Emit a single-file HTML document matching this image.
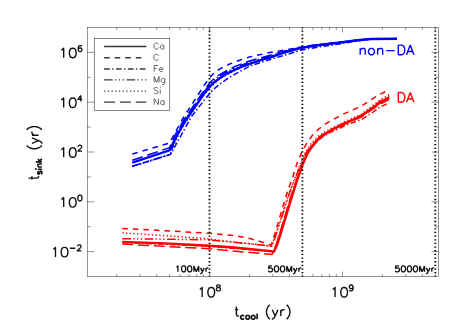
<!DOCTYPE html>
<html><head><meta charset="utf-8"><title>chart</title>
<style>html,body{margin:0;padding:0;background:#fff;}body{width:465px;height:332px;overflow:hidden;font-family:"Liberation Sans",sans-serif;}</style></head>
<body>
<svg width="465" height="332" viewBox="0 0 465 332" style="display:block;font-family:'Liberation Sans',sans-serif">
<rect width="465" height="332" fill="#fff"/>
<path d="M132.3,154.0 L169.5,143.0 L176.5,130.0 L184.0,116.5 L195.5,99.0 L203.0,87.0 L209.5,77.9 L214.0,73.0 L220.0,68.8 L229.1,64.3 L239.6,60.2 L250.2,56.8 L270.9,52.3 L292.6,48.6 L302.6,46.6 L320.0,44.4 L342.0,41.9 L360.0,39.8 L371.0,38.8 L397.0,38.6" fill="none" stroke="#0000ff" stroke-width="1.5" stroke-dasharray="5.6 4.95"/>
<path d="M132.3,166.2 L170.5,154.4 L181.0,135.5 L191.6,116.3 L203.6,100.9 L212.7,90.0 L220.0,83.9 L227.0,79.0 L235.1,74.1 L250.2,65.8 L270.9,59.3 L292.6,52.8 L302.6,49.7 L320.0,46.8 L342.0,43.6 L356.0,41.0 L371.0,39.3 L397.0,39.0" fill="none" stroke="#0000ff" stroke-width="1.5" stroke-dasharray="5.7 2.3 1.4 2.5"/>
<path d="M132.3,166.2 L170.3,154.4 L176.8,133.5 L185.1,119.5 L196.7,102.6 L202.6,94.0 L207.8,87.0 L209.5,84.6 L214.0,80.0 L220.0,75.7 L235.1,67.6 L250.2,61.9 L270.9,55.9 L285.0,51.4 L302.6,47.3 L320.0,44.8 L342.0,42.2 L360.0,40.0 L371.0,39.0 L397.0,38.8" fill="none" stroke="#0000ff" stroke-width="1.5" stroke-dasharray="8.6 2.3 1.3 2.5 1.3 2.5 1.3 2.6"/>
<path d="M132.3,166.4 L170.4,154.6 L178.6,133.8 L186.9,119.8 L198.5,102.9 L204.4,94.3 L210.0,87.3 L220.0,78.3 L235.1,70.0 L250.2,64.0 L270.9,57.4 L285.0,52.6 L302.6,47.8 L320.0,45.2 L342.0,42.4 L360.0,40.1 L371.0,39.1 L397.0,38.9" fill="none" stroke="#0000ff" stroke-width="1.5" stroke-dasharray="1.3 2.4"/>
<path d="M132.3,160.3 L169.5,147.7 L175.8,133.5 L184.1,119.5 L195.7,102.6 L201.6,94.0 L206.8,87.0 L209.5,83.2 L214.0,78.6 L220.0,74.3 L235.1,66.4 L250.2,60.8 L270.9,55.0 L285.0,50.8 L302.6,47.0 L320.0,44.6 L342.0,42.0 L360.0,39.9 L371.0,38.9 L397.0,38.7" fill="none" stroke="#0000ff" stroke-width="1.5" stroke-dasharray="11 4.8"/>
<path d="M132.3,162.6 L169.5,150.3 L178.0,133.5 L186.3,119.5 L192.0,111.0 L197.9,102.6 L203.8,94.0 L209.5,87.0 L214.0,82.5 L220.0,77.9 L227.0,73.6 L235.1,69.6 L242.0,66.6 L250.2,63.6 L260.0,60.3 L270.9,57.1 L285.0,52.3 L302.6,47.6 L320.0,45.0 L342.0,42.2 L360.0,40.0 L371.0,39.0 L397.0,38.8" fill="none" stroke="#0000ff" stroke-width="2.4"/>
<path d="M122.3,228.5 L165.3,230.7 L209.5,233.3 L235.2,235.7 L250.0,238.6 L262.0,242.0 L271.0,245.2 L274.5,235.0 L287.2,192.3 L293.0,176.0 L297.6,161.6 L302.5,151.0 L307.4,142.0 L312.3,135.5 L318.8,129.0 L325.3,124.1 L331.8,120.0 L338.3,116.8 L343.0,114.3 L361.1,106.2 L379.2,94.6 L389.2,89.9" fill="none" stroke="#ff0000" stroke-width="1.5" stroke-dasharray="5.6 4.95"/>
<path d="M122.3,242.4 L209.5,246.3 L273.5,251.8 L276.5,244.5 L284.0,220.3 L291.6,195.0 L302.5,164.5 L307.4,153.8 L312.3,146.8 L318.8,139.8 L325.3,135.0 L331.8,131.5 L338.3,129.0 L346.0,125.0 L361.1,119.7 L370.1,114.3 L379.2,107.5 L389.2,102.8" fill="none" stroke="#ff0000" stroke-width="1.5" stroke-dasharray="5.7 2.3 1.4 2.5"/>
<path d="M122.3,238.7 L165.3,239.2 L209.5,239.9 L231.3,242.0 L255.0,244.4 L271.8,246.4 L275.0,238.0 L281.5,218.0 L289.5,193.0 L301.0,164.0 L306.2,152.5 L311.3,145.0 L318.0,137.8 L325.0,133.0 L331.8,129.0 L338.3,125.8 L346.0,122.0 L361.1,115.5 L370.1,108.6 L379.2,101.8 L389.2,96.0" fill="none" stroke="#ff0000" stroke-width="1.5" stroke-dasharray="8.6 2.3 1.3 2.5 1.3 2.5 1.3 2.6"/>
<path d="M122.3,232.8 L165.3,235.7 L209.5,238.8 L231.3,241.8 L255.0,244.2 L271.4,246.2 L274.5,238.0 L281.0,218.0 L289.0,193.0 L300.4,164.0 L305.6,152.0 L310.6,144.3 L317.3,137.0 L324.5,132.0 L331.8,128.0 L338.3,124.8 L346.0,121.0 L361.1,114.5 L370.1,107.5 L379.2,100.5 L389.2,94.5" fill="none" stroke="#ff0000" stroke-width="1.5" stroke-dasharray="1.3 2.4"/>
<path d="M122.3,244.0 L165.3,246.4 L209.5,248.8 L231.3,250.8 L272.0,254.5 L276.0,245.0 L283.5,221.0 L291.0,196.0 L301.8,165.0 L307.0,153.2 L312.0,145.8 L318.5,138.5 L325.3,134.0 L331.8,130.2 L338.3,127.2 L346.0,123.6 L361.1,117.0 L370.1,111.0 L379.2,104.8 L389.2,99.3" fill="none" stroke="#ff0000" stroke-width="1.5" stroke-dasharray="11 4.8"/>
<path d="M122.3,241.9 L165.3,243.4 L209.5,245.8 L231.3,247.3 L274.0,251.4 L277.2,244.5 L284.7,220.3 L292.1,196.0 L297.0,180.5 L300.9,169.7 L302.5,164.9 L307.4,153.5 L312.3,146.1 L318.8,138.8 L325.3,133.9 L331.8,129.8 L338.3,126.6 L346.0,122.8 L361.1,116.1 L370.1,109.8 L379.2,103.2 L389.2,97.3" fill="none" stroke="#ff0000" stroke-width="2.4"/>
<line x1="209.5" y1="27.5" x2="209.5" y2="276.5" stroke="#000" stroke-width="1.85" stroke-dasharray="1.3 2.36" stroke-dashoffset="0.65"/>
<line x1="302.4" y1="27.5" x2="302.4" y2="276.5" stroke="#000" stroke-width="1.85" stroke-dasharray="1.3 2.36" stroke-dashoffset="0.65"/>
<line x1="435.3" y1="27.5" x2="435.3" y2="276.5" stroke="#000" stroke-width="1.85" stroke-dasharray="1.3 2.36" stroke-dashoffset="0.65"/>
<rect x="87.2" y="27.5" width="351.3" height="249.0" fill="none" stroke="#000" stroke-width="0.42"/>
<path d="M87.2,251.6 h7.0 M438.5,251.6 h-7.0 M87.2,226.7 h3.5 M438.5,226.7 h-3.5 M87.2,201.8 h7.0 M438.5,201.8 h-7.0 M87.2,176.9 h3.5 M438.5,176.9 h-3.5 M87.2,152.0 h7.0 M438.5,152.0 h-7.0 M87.2,127.1 h3.5 M438.5,127.1 h-3.5 M87.2,102.2 h7.0 M438.5,102.2 h-7.0 M87.2,77.3 h3.5 M438.5,77.3 h-3.5 M87.2,52.4 h7.0 M438.5,52.4 h-7.0 M116.6,276.5 v-2.5 M116.6,27.5 v2.5 M140.0,276.5 v-2.5 M140.0,27.5 v2.5 M156.6,276.5 v-2.5 M156.6,27.5 v2.5 M169.5,276.5 v-2.5 M169.5,27.5 v2.5 M180.0,276.5 v-2.5 M180.0,27.5 v2.5 M188.9,276.5 v-2.5 M188.9,27.5 v2.5 M196.6,276.5 v-2.5 M196.6,27.5 v2.5 M203.4,276.5 v-2.5 M203.4,27.5 v2.5 M209.5,276.5 v-5.0 M209.5,27.5 v5.0 M249.5,276.5 v-2.5 M249.5,27.5 v2.5 M272.9,276.5 v-2.5 M272.9,27.5 v2.5 M289.5,276.5 v-2.5 M289.5,27.5 v2.5 M302.4,276.5 v-2.5 M302.4,27.5 v2.5 M312.9,276.5 v-2.5 M312.9,27.5 v2.5 M321.8,276.5 v-2.5 M321.8,27.5 v2.5 M329.5,276.5 v-2.5 M329.5,27.5 v2.5 M336.3,276.5 v-2.5 M336.3,27.5 v2.5 M342.4,276.5 v-5.0 M342.4,27.5 v5.0 M382.4,276.5 v-2.5 M382.4,27.5 v2.5 M405.8,276.5 v-2.5 M405.8,27.5 v2.5 M422.4,276.5 v-2.5 M422.4,27.5 v2.5 M435.3,276.5 v-2.5 M435.3,27.5 v2.5" stroke="#000" stroke-width="0.42" fill="none"/>
<rect x="94.2" y="38.5" width="75.6" height="71.8" fill="#fff" stroke="#000" stroke-width="0.47"/>
<line x1="104.1" y1="46.5" x2="146.4" y2="46.5" stroke="#3a3a3a" stroke-width="1.4"/>
<g role="img" aria-label="Ca"><title>Ca</title><path d="M158.44,44.46 L158.13,43.88 L157.53,43.30 L156.93,43.01 L155.72,43.01 L155.11,43.30 L154.51,43.88 L154.21,44.46 L153.91,45.33 L153.91,46.78 L154.21,47.65 L154.51,48.23 L155.11,48.81 L155.72,49.10 L156.93,49.10 L157.53,48.81 L158.13,48.23 L158.44,47.65 M163.87,45.04 L163.87,49.10 M163.87,45.91 L163.27,45.33 L162.66,45.04 L161.76,45.04 L161.15,45.33 L160.55,45.91 L160.25,46.78 L160.25,47.36 L160.55,48.23 L161.15,48.81 L161.76,49.10 L162.66,49.10 L163.27,48.81 L163.87,48.23" fill="none" stroke="#505050" stroke-width="0.9" stroke-linecap="butt" stroke-linejoin="round"/></g>
<line x1="104.1" y1="57.8" x2="146.4" y2="57.8" stroke="#3a3a3a" stroke-width="1.4" stroke-dasharray="5.6 4.95"/>
<g role="img" aria-label="C"><title>C</title><path d="M158.44,55.76 L158.13,55.18 L157.53,54.60 L156.93,54.31 L155.72,54.31 L155.11,54.60 L154.51,55.18 L154.21,55.76 L153.91,56.63 L153.91,58.08 L154.21,58.95 L154.51,59.53 L155.11,60.11 L155.72,60.40 L156.93,60.40 L157.53,60.11 L158.13,59.53 L158.44,58.95" fill="none" stroke="#505050" stroke-width="0.9" stroke-linecap="butt" stroke-linejoin="round"/></g>
<line x1="104.1" y1="69.0" x2="146.4" y2="69.0" stroke="#3a3a3a" stroke-width="1.4" stroke-dasharray="5.7 2.3 1.4 2.5"/>
<g role="img" aria-label="Fe"><title>Fe</title><path d="M154.21,65.51 L154.21,71.60 M154.21,65.51 L158.13,65.51 M154.21,68.41 L156.62,68.41 M159.34,69.28 L162.97,69.28 L162.97,68.70 L162.66,68.12 L162.36,67.83 L161.76,67.54 L160.85,67.54 L160.25,67.83 L159.64,68.41 L159.34,69.28 L159.34,69.86 L159.64,70.73 L160.25,71.31 L160.85,71.60 L161.76,71.60 L162.36,71.31 L162.97,70.73" fill="none" stroke="#505050" stroke-width="0.9" stroke-linecap="butt" stroke-linejoin="round"/></g>
<line x1="104.1" y1="79.9" x2="146.4" y2="79.9" stroke="#3a3a3a" stroke-width="1.4" stroke-dasharray="8.6 2.3 1.3 2.5 1.3 2.5 1.3 2.6"/>
<g role="img" aria-label="Mg"><title>Mg</title><path d="M154.21,76.41 L154.21,82.50 M154.21,76.41 L156.62,82.50 M159.04,76.41 L156.62,82.50 M159.04,76.41 L159.04,82.50 M164.78,78.44 L164.78,83.08 L164.48,83.95 L164.17,84.24 L163.57,84.53 L162.66,84.53 L162.06,84.24 M164.78,79.31 L164.17,78.73 L163.57,78.44 L162.66,78.44 L162.06,78.73 L161.46,79.31 L161.15,80.18 L161.15,80.76 L161.46,81.63 L162.06,82.21 L162.66,82.50 L163.57,82.50 L164.17,82.21 L164.78,81.63" fill="none" stroke="#505050" stroke-width="0.9" stroke-linecap="butt" stroke-linejoin="round"/></g>
<line x1="104.1" y1="91.1" x2="146.4" y2="91.1" stroke="#3a3a3a" stroke-width="1.4" stroke-dasharray="1.3 2.4"/>
<g role="img" aria-label="Si"><title>Si</title><path d="M158.13,88.48 L157.53,87.90 L156.62,87.61 L155.42,87.61 L154.51,87.90 L153.91,88.48 L153.91,89.06 L154.21,89.64 L154.51,89.93 L155.11,90.22 L156.93,90.80 L157.53,91.09 L157.83,91.38 L158.13,91.96 L158.13,92.83 L157.53,93.41 L156.62,93.70 L155.42,93.70 L154.51,93.41 L153.91,92.83 M159.95,87.61 L160.25,87.90 L160.55,87.61 L160.25,87.32 L159.95,87.61 M160.25,89.64 L160.25,93.70" fill="none" stroke="#505050" stroke-width="0.9" stroke-linecap="butt" stroke-linejoin="round"/></g>
<line x1="104.1" y1="102.1" x2="146.4" y2="102.1" stroke="#3a3a3a" stroke-width="1.4" stroke-dasharray="11 4.8"/>
<g role="img" aria-label="Na"><title>Na</title><path d="M154.21,98.61 L154.21,104.70 M154.21,98.61 L158.44,104.70 M158.44,98.61 L158.44,104.70 M164.17,100.64 L164.17,104.70 M164.17,101.51 L163.57,100.93 L162.97,100.64 L162.06,100.64 L161.46,100.93 L160.85,101.51 L160.55,102.38 L160.55,102.96 L160.85,103.83 L161.46,104.41 L162.06,104.70 L162.97,104.70 L163.57,104.41 L164.17,103.83" fill="none" stroke="#505050" stroke-width="0.9" stroke-linecap="butt" stroke-linejoin="round"/></g>
<g role="img" aria-label="10"><title>10</title><path d="M61.27,50.02 L62.22,49.56 L63.66,48.21 L63.66,57.70 M72.26,48.21 L70.83,48.66 L69.87,50.02 L69.39,52.28 L69.39,53.63 L69.87,55.89 L70.83,57.25 L72.26,57.70 L73.22,57.70 L74.65,57.25 L75.61,55.89 L76.09,53.63 L76.09,52.28 L75.61,50.02 L74.65,48.66 L73.22,48.21 L72.26,48.21" fill="none" stroke="#111" stroke-width="1.4" stroke-linecap="butt" stroke-linejoin="round"/></g>
<g role="img" aria-label="6"><title>6</title><path d="M81.69,46.47 L81.39,45.90 L80.52,45.62 L79.94,45.62 L79.06,45.90 L78.48,46.76 L78.19,48.18 L78.19,49.61 L78.48,50.75 L79.06,51.32 L79.94,51.60 L80.23,51.60 L81.10,51.32 L81.69,50.75 L81.98,49.89 L81.98,49.61 L81.69,48.75 L81.10,48.18 L80.23,47.90 L79.94,47.90 L79.06,48.18 L78.48,48.75 L78.19,49.61" fill="none" stroke="#111" stroke-width="1.3" stroke-linecap="butt" stroke-linejoin="round"/></g>
<g role="img" aria-label="10"><title>10</title><path d="M61.27,99.82 L62.22,99.36 L63.66,98.01 L63.66,107.50 M72.26,98.01 L70.83,98.46 L69.87,99.82 L69.39,102.08 L69.39,103.43 L69.87,105.69 L70.83,107.05 L72.26,107.50 L73.22,107.50 L74.65,107.05 L75.61,105.69 L76.09,103.43 L76.09,102.08 L75.61,99.82 L74.65,98.46 L73.22,98.01 L72.26,98.01" fill="none" stroke="#111" stroke-width="1.4" stroke-linecap="butt" stroke-linejoin="round"/></g>
<g role="img" aria-label="4"><title>4</title><path d="M80.81,95.42 L77.89,99.41 L82.27,99.41 M80.81,95.42 L80.81,101.40" fill="none" stroke="#111" stroke-width="1.3" stroke-linecap="butt" stroke-linejoin="round"/></g>
<g role="img" aria-label="10"><title>10</title><path d="M61.27,149.62 L62.22,149.16 L63.66,147.81 L63.66,157.30 M72.26,147.81 L70.83,148.26 L69.87,149.62 L69.39,151.88 L69.39,153.23 L69.87,155.49 L70.83,156.85 L72.26,157.30 L73.22,157.30 L74.65,156.85 L75.61,155.49 L76.09,153.23 L76.09,151.88 L75.61,149.62 L74.65,148.26 L73.22,147.81 L72.26,147.81" fill="none" stroke="#111" stroke-width="1.4" stroke-linecap="butt" stroke-linejoin="round"/></g>
<g role="img" aria-label="2"><title>2</title><path d="M78.19,146.64 L78.19,146.36 L78.48,145.79 L78.77,145.50 L79.35,145.22 L80.52,145.22 L81.10,145.50 L81.39,145.79 L81.69,146.36 L81.69,146.93 L81.39,147.50 L80.81,148.35 L77.89,151.20 L81.98,151.20" fill="none" stroke="#111" stroke-width="1.3" stroke-linecap="butt" stroke-linejoin="round"/></g>
<g role="img" aria-label="10"><title>10</title><path d="M61.27,199.42 L62.22,198.96 L63.66,197.61 L63.66,207.10 M72.26,197.61 L70.83,198.06 L69.87,199.42 L69.39,201.68 L69.39,203.03 L69.87,205.29 L70.83,206.65 L72.26,207.10 L73.22,207.10 L74.65,206.65 L75.61,205.29 L76.09,203.03 L76.09,201.68 L75.61,199.42 L74.65,198.06 L73.22,197.61 L72.26,197.61" fill="none" stroke="#111" stroke-width="1.4" stroke-linecap="butt" stroke-linejoin="round"/></g>
<g role="img" aria-label="0"><title>0</title><path d="M79.64,195.02 L78.77,195.30 L78.19,196.16 L77.89,197.58 L77.89,198.44 L78.19,199.86 L78.77,200.72 L79.64,201.00 L80.23,201.00 L81.10,200.72 L81.69,199.86 L81.98,198.44 L81.98,197.58 L81.69,196.16 L81.10,195.30 L80.23,195.02 L79.64,195.02" fill="none" stroke="#111" stroke-width="1.3" stroke-linecap="butt" stroke-linejoin="round"/></g>
<g role="img" aria-label="10"><title>10</title><path d="M53.07,249.22 L54.02,248.76 L55.46,247.41 L55.46,256.90 M64.06,247.41 L62.63,247.86 L61.67,249.22 L61.19,251.48 L61.19,252.83 L61.67,255.09 L62.63,256.45 L64.06,256.90 L65.02,256.90 L66.45,256.45 L67.41,255.09 L67.89,252.83 L67.89,251.48 L67.41,249.22 L66.45,247.86 L65.02,247.41 L64.06,247.41" fill="none" stroke="#111" stroke-width="1.4" stroke-linecap="butt" stroke-linejoin="round"/></g>
<g role="img" aria-label="-2"><title>-2</title><path d="M69.99,248.24 L75.23,248.24 M77.57,246.24 L77.57,245.96 L77.86,245.39 L78.15,245.10 L78.73,244.82 L79.90,244.82 L80.48,245.10 L80.77,245.39 L81.07,245.96 L81.07,246.53 L80.77,247.10 L80.19,247.95 L77.28,250.80 L81.36,250.80" fill="none" stroke="#111" stroke-width="1.3" stroke-linecap="butt" stroke-linejoin="round"/></g>
<g role="img" aria-label="10"><title>10</title><path d="M199.77,289.32 L200.72,288.86 L202.16,287.51 L202.16,297.00 M210.76,287.51 L209.33,287.96 L208.37,289.32 L207.89,291.58 L207.89,292.93 L208.37,295.19 L209.33,296.55 L210.76,297.00 L211.72,297.00 L213.15,296.55 L214.11,295.19 L214.59,292.93 L214.59,291.58 L214.11,289.32 L213.15,287.96 L211.72,287.51 L210.76,287.51" fill="none" stroke="#111" stroke-width="1.4" stroke-linecap="butt" stroke-linejoin="round"/></g>
<g role="img" aria-label="8"><title>8</title><path d="M217.85,284.92 L216.98,285.20 L216.69,285.77 L216.69,286.34 L216.98,286.91 L217.56,287.20 L218.73,287.48 L219.60,287.77 L220.19,288.34 L220.48,288.91 L220.48,289.76 L220.19,290.33 L219.89,290.62 L219.02,290.90 L217.85,290.90 L216.98,290.62 L216.69,290.33 L216.39,289.76 L216.39,288.91 L216.69,288.34 L217.27,287.77 L218.14,287.48 L219.31,287.20 L219.89,286.91 L220.19,286.34 L220.19,285.77 L219.89,285.20 L219.02,284.92 L217.85,284.92" fill="none" stroke="#111" stroke-width="1.3" stroke-linecap="butt" stroke-linejoin="round"/></g>
<g role="img" aria-label="10"><title>10</title><path d="M332.67,289.32 L333.62,288.86 L335.06,287.51 L335.06,297.00 M343.66,287.51 L342.23,287.96 L341.27,289.32 L340.79,291.58 L340.79,292.93 L341.27,295.19 L342.23,296.55 L343.66,297.00 L344.62,297.00 L346.05,296.55 L347.01,295.19 L347.49,292.93 L347.49,291.58 L347.01,289.32 L346.05,287.96 L344.62,287.51 L343.66,287.51" fill="none" stroke="#111" stroke-width="1.4" stroke-linecap="butt" stroke-linejoin="round"/></g>
<g role="img" aria-label="9"><title>9</title><path d="M353.09,286.91 L352.79,287.77 L352.21,288.34 L351.34,288.62 L351.04,288.62 L350.17,288.34 L349.59,287.77 L349.29,286.91 L349.29,286.63 L349.59,285.77 L350.17,285.20 L351.04,284.92 L351.34,284.92 L352.21,285.20 L352.79,285.77 L353.09,286.91 L353.09,288.34 L352.79,289.76 L352.21,290.62 L351.34,290.90 L350.75,290.90 L349.88,290.62 L349.59,290.05" fill="none" stroke="#111" stroke-width="1.3" stroke-linecap="butt" stroke-linejoin="round"/></g>
<g role="img" aria-label="100Myr"><title>100Myr</title><path d="M176.38,267.04 L176.98,266.76 L177.89,265.91 L177.89,271.80 M183.33,265.91 L182.42,266.20 L181.82,267.04 L181.51,268.44 L181.51,269.28 L181.82,270.68 L182.42,271.52 L183.33,271.80 L183.93,271.80 L184.84,271.52 L185.44,270.68 L185.74,269.28 L185.74,268.44 L185.44,267.04 L184.84,266.20 L183.93,265.91 L183.33,265.91 M189.37,265.91 L188.46,266.20 L187.86,267.04 L187.56,268.44 L187.56,269.28 L187.86,270.68 L188.46,271.52 L189.37,271.80 L189.97,271.80 L190.88,271.52 L191.48,270.68 L191.78,269.28 L191.78,268.44 L191.48,267.04 L190.88,266.20 L189.97,265.91 L189.37,265.91 M193.90,265.91 L193.90,271.80 M193.90,265.91 L196.32,271.80 M198.73,265.91 L196.32,271.80 M198.73,265.91 L198.73,271.80 M200.55,267.88 L202.36,271.80 M204.17,267.88 L202.36,271.80 L201.75,272.92 L201.15,273.48 L200.55,273.76 L200.24,273.76 M205.98,267.88 L205.98,271.80 M205.98,269.56 L206.29,268.72 L206.89,268.16 L207.49,267.88 L208.40,267.88" fill="none" stroke="#111" stroke-width="1.35" stroke-linecap="butt" stroke-linejoin="round"/></g>
<g role="img" aria-label="500Myr"><title>500Myr</title><path d="M271.99,265.91 L268.97,265.91 L268.67,268.44 L268.97,268.16 L269.88,267.88 L270.78,267.88 L271.69,268.16 L272.29,268.72 L272.59,269.56 L272.59,270.12 L272.29,270.96 L271.69,271.52 L270.78,271.80 L269.88,271.80 L268.97,271.52 L268.67,271.24 L268.36,270.68 M276.22,265.91 L275.31,266.20 L274.71,267.04 L274.41,268.44 L274.41,269.28 L274.71,270.68 L275.31,271.52 L276.22,271.80 L276.82,271.80 L277.73,271.52 L278.33,270.68 L278.64,269.28 L278.64,268.44 L278.33,267.04 L277.73,266.20 L276.82,265.91 L276.22,265.91 M282.26,265.91 L281.35,266.20 L280.75,267.04 L280.45,268.44 L280.45,269.28 L280.75,270.68 L281.35,271.52 L282.26,271.80 L282.87,271.80 L283.77,271.52 L284.38,270.68 L284.68,269.28 L284.68,268.44 L284.38,267.04 L283.77,266.20 L282.87,265.91 L282.26,265.91 M286.79,265.91 L286.79,271.80 M286.79,265.91 L289.21,271.80 M291.63,265.91 L289.21,271.80 M291.63,265.91 L291.63,271.80 M293.44,267.88 L295.25,271.80 M297.06,267.88 L295.25,271.80 L294.65,272.92 L294.04,273.48 L293.44,273.76 L293.14,273.76 M298.88,267.88 L298.88,271.80 M298.88,269.56 L299.18,268.72 L299.78,268.16 L300.39,267.88 L301.29,267.88" fill="none" stroke="#111" stroke-width="1.35" stroke-linecap="butt" stroke-linejoin="round"/></g>
<g role="img" aria-label="5000Myr"><title>5000Myr</title><path d="M398.85,265.91 L395.83,265.91 L395.52,268.44 L395.83,268.16 L396.73,267.88 L397.64,267.88 L398.55,268.16 L399.15,268.72 L399.45,269.56 L399.45,270.12 L399.15,270.96 L398.55,271.52 L397.64,271.80 L396.73,271.80 L395.83,271.52 L395.52,271.24 L395.22,270.68 M403.08,265.91 L402.17,266.20 L401.57,267.04 L401.26,268.44 L401.26,269.28 L401.57,270.68 L402.17,271.52 L403.08,271.80 L403.68,271.80 L404.59,271.52 L405.19,270.68 L405.49,269.28 L405.49,268.44 L405.19,267.04 L404.59,266.20 L403.68,265.91 L403.08,265.91 M409.12,265.91 L408.21,266.20 L407.61,267.04 L407.31,268.44 L407.31,269.28 L407.61,270.68 L408.21,271.52 L409.12,271.80 L409.72,271.80 L410.63,271.52 L411.23,270.68 L411.54,269.28 L411.54,268.44 L411.23,267.04 L410.63,266.20 L409.72,265.91 L409.12,265.91 M415.16,265.91 L414.25,266.20 L413.65,267.04 L413.35,268.44 L413.35,269.28 L413.65,270.68 L414.25,271.52 L415.16,271.80 L415.77,271.80 L416.67,271.52 L417.28,270.68 L417.58,269.28 L417.58,268.44 L417.28,267.04 L416.67,266.20 L415.77,265.91 L415.16,265.91 M419.69,265.91 L419.69,271.80 M419.69,265.91 L422.11,271.80 M424.53,265.91 L422.11,271.80 M424.53,265.91 L424.53,271.80 M426.34,267.88 L428.15,271.80 M429.96,267.88 L428.15,271.80 L427.55,272.92 L426.94,273.48 L426.34,273.76 L426.04,273.76 M431.78,267.88 L431.78,271.80 M431.78,269.56 L432.08,268.72 L432.68,268.16 L433.29,267.88 L434.19,267.88" fill="none" stroke="#111" stroke-width="1.35" stroke-linecap="butt" stroke-linejoin="round"/></g>
<g role="img" aria-label="t"><title>t</title><path d="M236.39,306.51 L236.39,314.19 L236.87,315.55 L237.82,316.00 L238.78,316.00 M234.96,309.67 L238.30,309.67" fill="none" stroke="#111" stroke-width="1.4" stroke-linecap="butt" stroke-linejoin="round"/></g>
<g role="img" aria-label="cool"><title>cool</title><path d="M244.07,316.19 L243.50,315.65 L242.92,315.37 L242.05,315.37 L241.47,315.65 L240.89,316.19 L240.60,317.01 L240.60,317.56 L240.89,318.38 L241.47,318.93 L242.05,319.20 L242.92,319.20 L243.50,318.93 L244.07,318.38 M247.25,315.37 L246.68,315.65 L246.10,316.19 L245.81,317.01 L245.81,317.56 L246.10,318.38 L246.68,318.93 L247.25,319.20 L248.12,319.20 L248.70,318.93 L249.28,318.38 L249.57,317.56 L249.57,317.01 L249.28,316.19 L248.70,315.65 L248.12,315.37 L247.25,315.37 M252.75,315.37 L252.17,315.65 L251.59,316.19 L251.30,317.01 L251.30,317.56 L251.59,318.38 L252.17,318.93 L252.75,319.20 L253.62,319.20 L254.20,318.93 L254.77,318.38 L255.06,317.56 L255.06,317.01 L254.77,316.19 L254.20,315.65 L253.62,315.37 L252.75,315.37 M257.09,313.46 L257.09,319.20" fill="none" stroke="#111" stroke-width="1.6" stroke-linecap="butt" stroke-linejoin="round"/></g>
<g role="img" aria-label="(yr)"><title>(yr)</title><path d="M269.85,304.70 L268.89,305.60 L267.94,306.96 L266.98,308.77 L266.50,311.03 L266.50,312.84 L266.98,315.10 L267.94,316.90 L268.89,318.26 L269.85,319.16 M272.24,309.67 L275.11,316.00 M277.98,309.67 L275.11,316.00 L274.15,317.81 L273.20,318.71 L272.24,319.16 L271.76,319.16 M280.84,309.67 L280.84,316.00 M280.84,312.38 L281.32,311.03 L282.28,310.12 L283.23,309.67 L284.67,309.67 M286.58,304.70 L287.54,305.60 L288.49,306.96 L289.45,308.77 L289.93,311.03 L289.93,312.84 L289.45,315.10 L288.49,316.90 L287.54,318.26 L286.58,319.16" fill="none" stroke="#111" stroke-width="1.4" stroke-linecap="butt" stroke-linejoin="round"/></g>
<g role="img" aria-label="t"><title>t</title><path d="M2.26,-10.04 L2.26,-1.91 L2.71,-0.48 L3.62,0.00 L4.52,0.00 M0.90,-6.69 L4.07,-6.69" fill="none" stroke="#111" stroke-width="1.4" stroke-linecap="butt" stroke-linejoin="round" transform="translate(38.6,180.4) rotate(-90)"/></g>
<g role="img" aria-label="sink"><title>sink</title><path d="M9.25,0.12 L8.98,-0.46 L8.16,-0.75 L7.34,-0.75 L6.52,-0.46 L6.24,0.12 L6.52,0.70 L7.06,0.99 L8.43,1.28 L8.98,1.56 L9.25,2.14 L9.25,2.43 L8.98,3.01 L8.16,3.30 L7.34,3.30 L6.52,3.01 L6.24,2.43 M10.89,-2.77 L11.17,-2.48 L11.44,-2.77 L11.17,-3.06 L10.89,-2.77 M11.17,-0.75 L11.17,3.30 M13.35,-0.75 L13.35,3.30 M13.35,0.41 L14.17,-0.46 L14.72,-0.75 L15.54,-0.75 L16.09,-0.46 L16.36,0.41 L16.36,3.30 M18.55,-2.77 L18.55,3.30 M21.28,-0.75 L18.55,2.14 M19.64,0.99 L21.56,3.30" fill="none" stroke="#111" stroke-width="1.6" stroke-linecap="butt" stroke-linejoin="round" transform="translate(38.6,180.4) rotate(-90)"/></g>
<g role="img" aria-label="(yr)"><title>(yr)</title><path d="M34.81,-11.95 L33.91,-10.99 L33.00,-9.56 L32.10,-7.65 L31.65,-5.26 L31.65,-3.35 L32.10,-0.96 L33.00,0.96 L33.91,2.39 L34.81,3.35 M37.07,-6.69 L39.78,0.00 M42.49,-6.69 L39.78,0.00 L38.88,1.91 L37.97,2.87 L37.07,3.35 L36.62,3.35 M45.21,-6.69 L45.21,0.00 M45.21,-3.82 L45.66,-5.26 L46.56,-6.21 L47.47,-6.69 L48.82,-6.69 M50.63,-11.95 L51.53,-10.99 L52.44,-9.56 L53.34,-7.65 L53.79,-5.26 L53.79,-3.35 L53.34,-0.96 L52.44,0.96 L51.53,2.39 L50.63,3.35" fill="none" stroke="#111" stroke-width="1.4" stroke-linecap="butt" stroke-linejoin="round" transform="translate(38.6,180.4) rotate(-90)"/></g>
<g role="img" aria-label="non-DA"><title>non-DA</title><path d="M360.20,48.33 L360.20,54.80 M360.20,50.18 L361.58,48.79 L362.50,48.33 L363.87,48.33 L364.79,48.79 L365.25,50.18 L365.25,54.80 M370.76,48.33 L369.84,48.79 L368.92,49.72 L368.46,51.10 L368.46,52.03 L368.92,53.41 L369.84,54.34 L370.76,54.80 L372.13,54.80 L373.05,54.34 L373.97,53.41 L374.43,52.03 L374.43,51.10 L373.97,49.72 L373.05,48.79 L372.13,48.33 L370.76,48.33 M377.64,48.33 L377.64,54.80 M377.64,50.18 L379.02,48.79 L379.94,48.33 L381.31,48.33 L382.23,48.79 L382.69,50.18 L382.69,54.80 M386.36,50.64 L394.62,50.64 M398.30,45.10 L398.30,54.80 M398.30,45.10 L401.51,45.10 L402.89,45.56 L403.81,46.48 L404.26,47.41 L404.72,48.79 L404.72,51.10 L404.26,52.49 L403.81,53.41 L402.89,54.34 L401.51,54.80 L398.30,54.80 M410.23,45.10 L406.56,54.80 M410.23,45.10 L413.90,54.80 M407.94,51.57 L412.53,51.57" fill="none" stroke="#0000ff" stroke-width="1.4" stroke-linecap="butt" stroke-linejoin="round"/></g>
<g role="img" aria-label="DA"><title>DA</title><path d="M398.30,92.50 L398.30,102.20 M398.30,92.50 L401.51,92.50 L402.89,92.96 L403.81,93.88 L404.27,94.81 L404.73,96.19 L404.73,98.50 L404.27,99.89 L403.81,100.81 L402.89,101.74 L401.51,102.20 L398.30,102.20 M410.23,92.50 L406.56,102.20 M410.23,92.50 L413.91,102.20 M407.94,98.97 L412.53,98.97" fill="none" stroke="#ff0000" stroke-width="1.4" stroke-linecap="butt" stroke-linejoin="round"/></g>
</svg>
</body></html>
